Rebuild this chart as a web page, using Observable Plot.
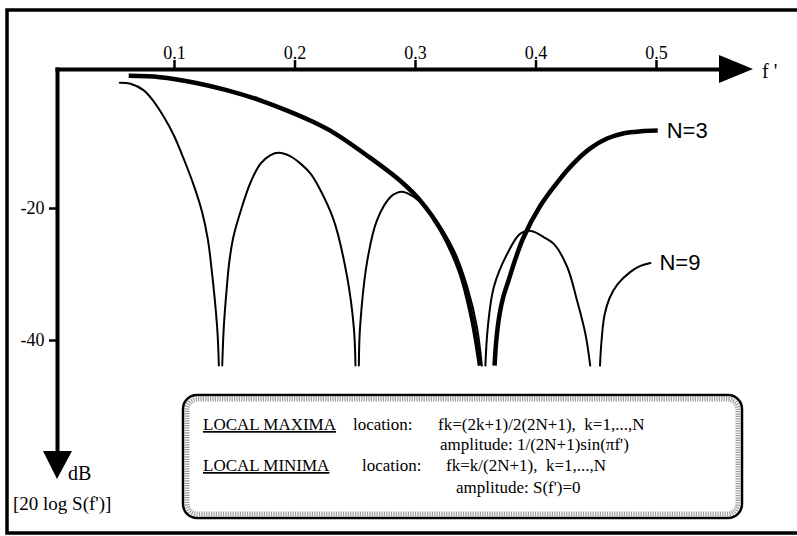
<!DOCTYPE html>
<html>
<head>
<meta charset="utf-8">
<script src="https://cdn.jsdelivr.net/npm/d3@7"></script>
<script src="https://cdn.jsdelivr.net/npm/@observablehq/plot@0.6"></script>
<style>
  html, body { margin: 0; padding: 0; background: #fff; }
  svg { display: block; }
</style>
</head>
<body>
<script>
// ---------- data ----------
// x ticks on f' axis and y ticks in dB
const xTicks = [0.1, 0.2, 0.3, 0.4, 0.5];
const yTicks = [-20, -40];

// N = 3 response, [f', dB], drawn as two segments (curve clipped at the bottom)
const n3Fall = [[0.062, 0.1], [0.088, -0.1], [0.116, -0.9], [0.144, -2.1], [0.171, -3.6], [0.194, -5.2],
  [0.213, -6.7], [0.232, -8.5], [0.260, -12.0], [0.288, -15.9], [0.304, -18.8], [0.321, -23.2],
  [0.337, -29.6], [0.347, -36.7], [0.3535, -43.8]];
const n3Rise = [[0.3656, -43.8], [0.3672, -39.7], [0.3697, -36.1], [0.3730, -33.3], [0.3772, -30.9],
  [0.3830, -27.6], [0.3896, -24.4], [0.4037, -19.55], [0.4187, -15.8], [0.431, -13.2], [0.445, -10.9],
  [0.459, -9.4], [0.473, -8.6], [0.487, -8.3], [0.501, -8.2]];

// N = 9 response, five segments
const n9Seg1 = [[0.0546, -0.95], [0.0635, -1.1], [0.0745, -2.1], [0.0828, -3.8], [0.0911, -6.1], [0.0994, -8.9],
  [0.1077, -12.5], [0.116, -16.5], [0.123, -20.6], [0.1276, -24.6], [0.130, -27.9], [0.1354, -38.0], [0.1368, -43.8]];
const n9Seg2 = [[0.1396, -43.8], [0.1409, -38.0], [0.1432, -32.4], [0.1456, -27.9], [0.149, -24.2], [0.1548, -20.45],
  [0.1631, -16.06], [0.1714, -13.2], [0.1797, -11.9], [0.1866, -11.56], [0.1963, -12.1], [0.2046, -13.2],
  [0.2129, -14.7], [0.2184, -16.3], [0.2322, -21.8], [0.2433, -30.4], [0.2488, -38.0], [0.2502, -43.8]];
const n9Seg3 = [[0.253, -43.8], [0.254, -38.0], [0.260, -27.9], [0.268, -21.8], [0.279, -18.3], [0.285, -17.6],
  [0.290, -17.5], [0.299, -18.3], [0.315, -21.3], [0.332, -26.4], [0.343, -31.9], [0.351, -38.0], [0.355, -43.8]];
const n9Seg4 = [[0.358, -43.8], [0.360, -38.0], [0.365, -31.9], [0.376, -26.9], [0.387, -23.8], [0.396, -23.4],
  [0.407, -24.4], [0.415, -25.4], [0.426, -28.9], [0.434, -33.9], [0.441, -39.0], [0.445, -43.8]];
const n9Seg5 = [[0.4531, -43.8], [0.4544, -40.0], [0.4568, -36.2], [0.461, -33.6], [0.4676, -31.5], [0.4784, -29.6],
  [0.4867, -28.7], [0.495, -28.26]];

const seriesLabels = ["N=3", "N=9"];

// ---------- build tables ----------
function rows(pts, series, seg) {
  return pts.map(([f, db]) => ({f, db, series, seg}));
}
const thick = [...rows(n3Fall, "N=3", "a"), ...rows(n3Rise, "N=3", "b")];
const thin = [...rows(n9Seg1, "N=9", "1"), ...rows(n9Seg2, "N=9", "2"), ...rows(n9Seg3, "N=9", "3"),
  ...rows(n9Seg4, "N=9", "4"), ...rows(n9Seg5, "N=9", "5")];
const labelRows = [
  {f: n3Rise[n3Rise.length - 1][0], db: n3Rise[n3Rise.length - 1][1], label: seriesLabels[0]},
  {f: n9Seg5[n9Seg5.length - 1][0], db: n9Seg5[n9Seg5.length - 1][1], label: seriesLabels[1]}
];

const W = 797, H = 536;
const chart = Plot.plot({
  width: W,
  height: H,
  marginTop: 69,
  marginLeft: 57,
  marginRight: 72,
  marginBottom: 84,
  style: {fontFamily: "Liberation Serif, serif", fontSize: "18px", background: "white", color: "black", overflow: "visible"},
  x: {domain: [0, 0.6], range: [53.5, 776.5]},
  y: {domain: [0, -60], range: [76, 472]},
  marks: [
    Plot.frame({anchor: "top", strokeWidth: 4}),
    Plot.frame({anchor: "left", strokeWidth: 4}),
    Plot.axisX({anchor: "top", ticks: xTicks, tickSize: 10, tickPadding: 1, strokeWidth: 2.5,
      tickFormat: d => d.toFixed(1), fontSize: 18, label: null}),
    Plot.axisY({anchor: "left", ticks: yTicks, tickSize: 8, tickPadding: 5, strokeWidth: 2.5,
      tickFormat: d => String(d), fontSize: 18, label: null}),
    Plot.line(thin, {x: "f", y: "db", z: "seg", stroke: "black", strokeWidth: 2, curve: "catmull-rom"}),
    Plot.line(thick, {x: "f", y: "db", z: "seg", stroke: "black", strokeWidth: 4.5, curve: "catmull-rom", strokeLinecap: "butt"}),
    Plot.text(labelRows, {x: "f", y: "db", text: "label", textAnchor: "start", dx: 9,
      fontFamily: "Liberation Sans, Arial, sans-serif", fontSize: 22})
  ]
});
document.body.appendChild(chart);

// ---------- decorations: outer frame, arrowheads, axis names, note box ----------
const svg = d3.select(chart);
const serif = "Liberation Serif, serif";
svg.append("rect").attr("x", 7).attr("y", 10).attr("width", W + 10).attr("height", 523)
  .attr("fill", "none").attr("stroke", "black").attr("stroke-width", 3.5);
// x-axis arrowhead
svg.append("path").attr("d", "M719,55 L753,69 L719,83 Z").attr("fill", "black");
// y-axis arrowhead
svg.append("path").attr("d", "M43,451 L57,479 L72,451 Z").attr("fill", "black");

function label(g, x, y, size, t, underline) {
  const el = g.append("text").attr("x", x).attr("y", y).attr("font-family", serif)
    .attr("font-size", size).attr("text-anchor", "start").attr("fill", "black").text(t);
  if (underline) el.attr("text-decoration", "underline");
  return el;
}
label(svg, 762, 78, 20, "f '");
label(svg, 68, 480, 20, "dB");
label(svg, 13, 510, 19, "[20 log S(f')]");

// note box
const box = svg.append("g");
box.append("rect").attr("x", 183).attr("y", 395).attr("width", 559).attr("height", 123).attr("rx", 14)
  .attr("fill", "white").attr("stroke", "black").attr("stroke-width", 2.5);
box.append("rect").attr("x", 187).attr("y", 399).attr("width", 551).attr("height", 115).attr("rx", 11)
  .attr("fill", "none").attr("stroke", "#9a9a9a").attr("stroke-width", 5).attr("stroke-dasharray", "1.2 1.2");
const noteLines = [
  {x: 203, y: 430, t: "LOCAL MAXIMA", u: true},
  {x: 353, y: 430, t: "location:"},
  {x: 438, y: 430, t: "fk=(2k+1)/2(2N+1),  k=1,...,N"},
  {x: 440, y: 450, t: "amplitude: 1/(2N+1)sin(πf')"},
  {x: 203, y: 471, t: "LOCAL MINIMA", u: true},
  {x: 362, y: 471, t: "location:"},
  {x: 446, y: 471, t: "fk=k/(2N+1),  k=1,...,N"},
  {x: 456, y: 493, t: "amplitude: S(f')=0"}
];
for (const l of noteLines) label(box, l.x, l.y, 17, l.t, l.u);
</script>
</body>
</html>
